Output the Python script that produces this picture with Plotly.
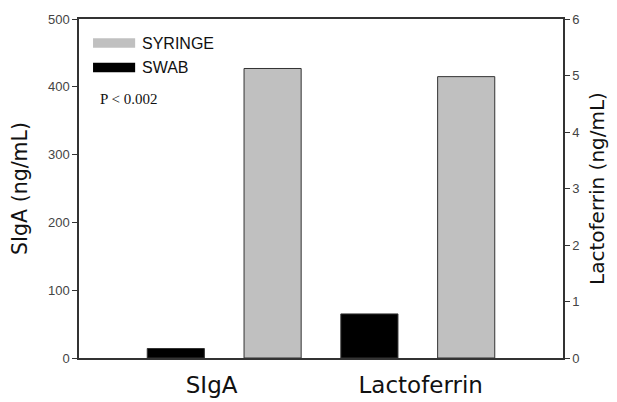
import plotly.graph_objects as go

categories = ["SIgA", "Lactoferrin"]
series_names = ["SWAB", "SYRINGE"]
swab = [14, 0.78]
syringe = [427, 4.98]
left_ticks = [0, 100, 200, 300, 400, 500]
right_ticks = [0, 1, 2, 3, 4, 5, 6]

colors = {"SWAB": "#000000", "SYRINGE": "#c0c0c0"}
values = {"SWAB": swab, "SYRINGE": syringe}
axes = ["y", "y2"]

fig = go.Figure()
for gi, cat in enumerate(categories):
    for si, name in enumerate(series_names):
        fig.add_trace(go.Bar(
            x=[gi * 2 + si], y=[values[name][gi]], yaxis=axes[gi],
            width=0.59, marker=dict(color=colors[name], line=dict(color="#333333", width=1)),
            name=name, showlegend=False,
        ))

font_sans = "Liberation Sans, Arial, sans-serif"
font_title = "DejaVu Sans, Verdana, sans-serif"
axis_col = "#333333"

# page body has an 8px margin, so the figure is 8px smaller on each axis
fig.update_layout(
    width=609, height=394,
    margin=dict(l=71, r=54, t=10.5, b=44),
    paper_bgcolor="white", plot_bgcolor="white",
    barmode="overlay",
    showlegend=False,
    xaxis=dict(
        range=[-1, 4], tickvals=[0.37, 2.53], ticktext=categories,
        ticks="outside", ticklen=6, tickcolor="rgba(0,0,0,0)",
        tickfont=dict(family=font_title, size=23, color="#111111"),
        showline=True, linecolor=axis_col, linewidth=1.5, mirror=True,
        showgrid=False, zeroline=False, automargin=False,
    ),
    yaxis=dict(
        range=[0, 500], tickvals=left_ticks,
        ticks="outside", ticklen=5, tickcolor=axis_col, tickwidth=1.2,
        tickfont=dict(family=font_sans, size=13, color="#444444"),
        showline=True, linecolor=axis_col, linewidth=1.5,
        showgrid=False, zeroline=False, automargin=False,
        title=dict(text="SIgA (ng/mL)", font=dict(family=font_title, size=20.5, color="#111111"), standoff=16),
    ),
    yaxis2=dict(
        range=[0, 6], tickvals=right_ticks, overlaying="y", side="right",
        ticks="outside", ticklen=5, tickcolor=axis_col, tickwidth=1.2,
        tickfont=dict(family=font_sans, size=13, color="#444444"),
        showline=True, linecolor=axis_col, linewidth=1.5,
        showgrid=False, zeroline=False, automargin=False,
        title=dict(text="Lactoferrin (ng/mL)", font=dict(family=font_title, size=20, color="#111111"), standoff=11),
    ),
)

# custom legend (wide swatches) and annotation
legend_items = [("SYRINGE", 0.929), ("SWAB", 0.857)]
for name, yc in legend_items:
    fig.add_shape(type="rect", xref="paper", yref="paper",
                  x0=0.029, x1=0.116, y0=yc - 0.014, y1=yc + 0.014,
                  fillcolor=colors[name], line=dict(width=0))
    fig.add_annotation(xref="paper", yref="paper", x=0.126, y=yc, text=name,
                       showarrow=False, xanchor="left", yanchor="middle",
                       font=dict(family=font_sans, size=16, color="#111111"))
fig.add_annotation(xref="paper", yref="paper", x=0.04, y=0.765, text="P < 0.002",
                   showarrow=False, xanchor="left", yanchor="middle",
                   font=dict(family="Liberation Serif, Times New Roman, serif", size=15, color="#111111"))

fig.write_html("out.html")
